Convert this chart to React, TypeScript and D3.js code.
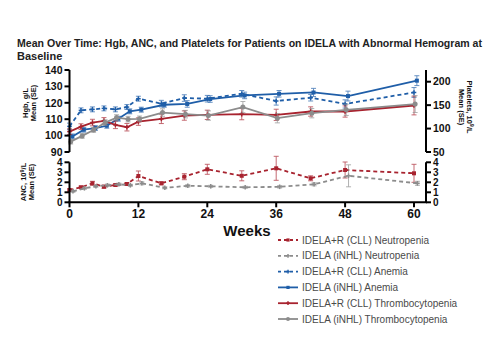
import * as d3 from 'd3';

const weeks = [0, 2, 4, 6, 8, 10, 12, 16, 20, 24, 30, 36, 42, 48, 60];

// Hgb, g/L
const hgbCll = [105.6, 115.4, 116, 116.6, 116, 117.4, 122.5, 119.5, 122.9, 122.5, 125.5, 121.1, 123.1, 119.3, 126.3];
const hgbCllSe = [2, 1.5, 1.5, 1.5, 1.5, 1.5, 1.5, 2, 2, 2, 2, 2.5, 2, 2.5, 3];
const hgbInhl = [99.5, 103.6, 104.6, 106, 110.3, 114.8, 115.8, 118.8, 119.3, 122.3, 124.5, 125.5, 126.3, 124.1, 133.5];
const hgbInhlSe = [1.5, 1.5, 1.5, 1.5, 1.5, 1.5, 1.5, 1.5, 2, 2, 2, 2, 2.5, 3, 3];

// Platelets, 10^9/L
const pltCll = [93.5, 104.2, 112.8, 116.4, 107.9, 102.9, 114.9, 120.7, 127.8, 129.3, 130.8, 129.3, 136.4, 136.4, 149.2];
const pltCllSe = [6, 6, 7, 7, 8, 8, 8, 10, 10, 10, 12, 12, 10, 12, 20];
const pltInhl = [72.1, 84.3, 97.1, 112.8, 123.5, 120.1, 120.7, 134.2, 130.8, 127.8, 145.8, 122.2, 132.9, 140, 152.2];
const pltInhlSe = [5, 5, 5, 6, 6, 6, 6, 8, 8, 10, 12, 10, 10, 12, 18];

// ANC, 10^9/L
const ancCll = [1.23, 1.5, 1.9, 1.56, 1.73, 1.83, 2.63, 1.9, 2.56, 3.3, 2.65, 3.4, 2.4, 3.23, 2.9];
const ancCllSe = [0.1, 0.12, 0.2, 0.15, 0.12, 0.15, 0.5, 0.15, 0.3, 0.5, 0.5, 1.2, 0.25, 0.8, 0.9];
const ancInhl = [1.1, 1.4, 1.6, 1.7, 1.8, 1.7, 1.9, 1.45, 1.65, 1.6, 1.5, 1.55, 1.8, 2.65, 1.9];
const ancInhlSe = [0.1, 0.1, 0.1, 0.12, 0.12, 0.1, 0.15, 0.1, 0.12, 0.1, 0.1, 0.12, 0.15, 1.1, 0.2];

const xTicks = [0, 12, 24, 36, 48, 60];
const hgbTicks = [90, 100, 110, 120, 130, 140];
const pltTicks = [50, 100, 150, 200];
const ancTicks = [0, 1, 2, 3, 4];

const legendLabels = [
  'IDELA+R (CLL) Neutropenia',
  'IDELA (iNHL) Neutropenia',
  'IDELA+R (CLL) Anemia',
  'IDELA (iNHL) Anemia',
  'IDELA+R (CLL) Thrombocytopenia',
  'IDELA (iNHL) Thrombocytopenia',
];

const BLUE = '#1f5ea8';
const RED = '#a8232f';
const GRAY = '#8c8c8c';

type Series = {
  values: number[];
  se: number[];
  color: string;
  dashed: boolean;
  shift: number;
  panel: 'hgb' | 'plt' | 'anc';
  marker: 'square' | 'circle' | 'cross';
};

const series: Series[] = [
  { values: ancCll, se: ancCllSe, color: RED, dashed: true, shift: 0, panel: 'anc', marker: 'square' },
  { values: ancInhl, se: ancInhlSe, color: GRAY, dashed: true, shift: 0.6, panel: 'anc', marker: 'cross' },
  { values: hgbCll, se: hgbCllSe, color: BLUE, dashed: true, shift: 0, panel: 'hgb', marker: 'cross' },
  { values: hgbInhl, se: hgbInhlSe, color: BLUE, dashed: false, shift: 0.5, panel: 'hgb', marker: 'square' },
  { values: pltCll, se: pltCllSe, color: RED, dashed: false, shift: 0, panel: 'plt', marker: 'cross' },
  { values: pltInhl, se: pltInhlSe, color: GRAY, dashed: false, shift: 0.2, panel: 'plt', marker: 'circle' },
];

const FONT = 'Liberation Sans, Arial, sans-serif';

export default function App() {
  const w = 500;
  const h = 350;

  const x = d3.scaleLinear().domain([0, 60]).range([69.5, 414]);
  const yHgb = d3.scaleLinear().domain([90, 140]).range([152, 70]);
  const yPlt = d3.scaleLinear().domain([50, 225]).range([152, 70]);
  const yAnc = d3.scaleLinear().domain([0, 4]).range([202.3, 162.3]);
  const scales = { hgb: yHgb, plt: yPlt, anc: yAnc };

  const axisLeftX = 69.5;
  const axisRightX = 426;

  const drawMarker = (s: Series, cx: number, cy: number, key: string, k = 1) => {
    if (s.marker === 'circle') return <circle key={key} cx={cx} cy={cy} r={2.5 * k} fill={s.color} />;
    if (s.marker === 'square') return <rect key={key} x={cx - 2 * k} y={cy - 2 * k} width={4 * k} height={4 * k} fill={s.color} />;
    return (
      <g key={key} stroke={s.color} strokeWidth={1.5}>
        <line x1={cx - 2.3 * k} x2={cx + 2.3 * k} y1={cy} y2={cy} />
        <line x1={cx} x2={cx} y1={cy - 2.3 * k} y2={cy + 2.3 * k} />
      </g>
    );
  };

  return (
    <svg width={w} height={h} style={{ position: 'absolute', left: 0, top: 0, background: '#fff' }} fontFamily={FONT}>
      <rect width={w} height={h} fill='#fff' />
      <text x={17} y={47} fontSize={11} fontWeight='bold' fill='#222' textLength={465} lengthAdjust='spacingAndGlyphs'>
        Mean Over Time: Hgb, ANC, and Platelets for Patients on IDELA with Abnormal Hemogram at
      </text>
      <text x={17} y={59.5} fontSize={11} fontWeight='bold' fill='#222'>
        Baseline
      </text>

      {/* series */}
      {series.map((s, si) => {
        const y = scales[s.panel];
        const pts: [number, number][] = s.values.map((v, i) => [x(weeks[i] + s.shift), y(v)]);
        const line = d3.line()(pts) ?? '';
        return (
          <g key={si}>
            {s.values.map((v, i) => {
              const cx = x(weeks[i] + s.shift);
              const y1 = y(v + s.se[i]);
              const y2 = y(v - s.se[i]);
              return (
                <g key={i} stroke={s.color} strokeWidth={0.9} opacity={0.75}>
                  <line x1={cx} x2={cx} y1={y1} y2={y2} />
                  <line x1={cx - 2.5} x2={cx + 2.5} y1={y1} y2={y1} />
                  <line x1={cx - 2.5} x2={cx + 2.5} y1={y2} y2={y2} />
                </g>
              );
            })}
            <path d={line} fill='none' stroke={s.color} strokeWidth={1.8} strokeDasharray={s.dashed ? '4,3' : undefined} />
            {pts.map((p, i) => drawMarker(s, p[0], p[1], 'm' + i))}
          </g>
        );
      })}

      {/* axes */}
      <g stroke='#000' strokeWidth={2}>
        <line x1={axisLeftX} x2={axisLeftX} y1={yHgb(140)} y2={yHgb(90)} />
        {hgbTicks.map((t) => (
          <line key={t} x1={axisLeftX - 5} x2={axisLeftX} y1={yHgb(t)} y2={yHgb(t)} />
        ))}
        <line x1={axisRightX} x2={axisRightX} y1={70} y2={yPlt(50)} />
        {pltTicks.map((t) => (
          <line key={t} x1={axisRightX} x2={axisRightX + 5} y1={yPlt(t)} y2={yPlt(t)} />
        ))}
        <line x1={axisLeftX} x2={axisLeftX} y1={yAnc(4)} y2={yAnc(0)} />
        <line x1={axisRightX} x2={axisRightX} y1={yAnc(4)} y2={yAnc(0)} />
        {ancTicks.map((t) => (
          <g key={t}>
            <line x1={axisLeftX - 5} x2={axisLeftX} y1={yAnc(t)} y2={yAnc(t)} />
            <line x1={axisRightX} x2={axisRightX + 5} y1={yAnc(t)} y2={yAnc(t)} />
          </g>
        ))}
        <line x1={axisLeftX - 1} x2={axisRightX + 1} y1={yAnc(0)} y2={yAnc(0)} />
        {xTicks.map((t) => (
          <line key={t} x1={x(t)} x2={x(t)} y1={yAnc(0)} y2={yAnc(0) + 5} />
        ))}
      </g>

      <g fontSize={10} fontWeight='bold' fill='#111'>
        {hgbTicks.map((t) => (
          <text key={t} x={axisLeftX - 7} y={yHgb(t)} dy='0.36em' textAnchor='end' fontSize={10.5}>{t}</text>
        ))}
        {ancTicks.map((t) => (
          <text key={t} x={axisLeftX - 7} y={yAnc(t)} dy='0.36em' textAnchor='end'>{t}</text>
        ))}
        {pltTicks.map((t) => (
          <text key={t} x={axisRightX + 7} y={yPlt(t)} dy='0.36em' fontSize={10.5}>{t}</text>
        ))}
        {ancTicks.map((t) => (
          <text key={t} x={axisRightX + 7} y={yAnc(t)} dy='0.36em'>{t}</text>
        ))}
        {xTicks.map((t) => (
          <text key={t} x={x(t)} y={yAnc(0) + 16} textAnchor='middle' fontSize={12}>{t}</text>
        ))}
      </g>

      <text x={247} y={236} textAnchor='middle' fontSize={15} fontWeight='bold' fill='#111'>Weeks</text>

      {/* axis titles */}
      <g fontSize={7.5} fontWeight='bold' fill='#111' textAnchor='middle'>
        <text transform='translate(28,103) rotate(-90)'>Hgb, g/L</text>
        <text transform='translate(36,103) rotate(-90)'>Mean (SE)</text>
        <text transform='translate(26,182) rotate(-90)'>
          ANC, 10<tspan fontSize={5.5} dy={-2.5}>9</tspan><tspan dy={2.5}>/L</tspan>
        </text>
        <text transform='translate(34,182) rotate(-90)'>Mean (SE)</text>
        <text transform='translate(467,107) rotate(90)'>
          Platelets, 10<tspan fontSize={5.5} dy={-2.5}>9</tspan><tspan dy={2.5}>/L</tspan>
        </text>
        <text transform='translate(459,107) rotate(90)'>Mean (SE)</text>
      </g>

      {/* legend */}
      {series.map((s, i) => {
        const ly = 240 + i * 15.8;
        return (
          <g key={i}>
            <line x1={278} x2={298} y1={ly} y2={ly} stroke={s.color} strokeWidth={1.8}
              strokeDasharray={s.dashed ? '3,3' : undefined} />
            {drawMarker(s, 288, ly, 'lm' + i, 0.8)}
            <text x={302} y={ly} dy='0.36em' fontSize={10} fill='#4a4a4a'>{legendLabels[i]}</text>
          </g>
        );
      })}
    </svg>
  );
}
